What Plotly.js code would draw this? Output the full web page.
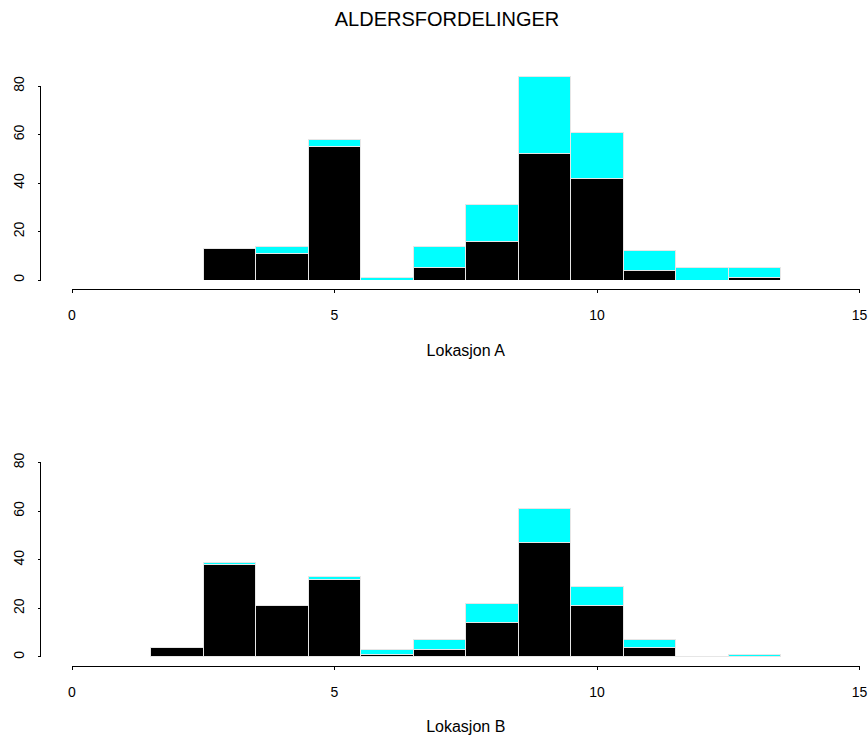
<!DOCTYPE html>
<html>
<head>
<meta charset="utf-8">
<script src="https://cdn.plot.ly/plotly-3.0.1.min.js"></script>
<style>html,body{margin:0;padding:0;background:#fff;}#chart{width:868px;height:736px;}</style>
</head>
<body>
<div id="chart"></div>
<script>
// Age classes (bar centres)
const ages = [2, 3, 4, 5, 6, 7, 8, 9, 10, 11, 12, 13];
// Lokasjon A: black part and cyan part (stacked on top)
const locA_black = [0, 13, 11, 55, 0, 5, 16, 52, 42, 4, 0, 1];
const locA_cyan  = [0, 0, 3, 3, 1, 9, 15, 32, 19, 8, 5, 4];
// Lokasjon B
const locB_black = [4, 38, 21, 32, 1, 3, 14, 47, 21, 4, 0, 0];
const locB_cyan  = [0, 1, 0, 1, 2, 4, 8, 14, 8, 3, 0, 1];

const xTicks = [0, 5, 10, 15];
const yTicks = [0, 20, 40, 60, 80];
const yAxisMax = 80;
const titleText = 'ALDERSFORDELINGER';
const xTitleA = 'Lokasjon A';
const xTitleB = 'Lokasjon B';

const W = 868, H = 736;
const px = v => v / W;
const py = v => 1 - v / H;

const barLine = {color: '#e6e6e6', width: 1};
function bars(y, color, xa, ya) {
  return {type: 'bar', x: ages, y: y, width: 1, xaxis: xa, yaxis: ya,
          marker: {color: color, line: barLine}, hoverinfo: 'skip'};
}
const data = [
  bars(locA_black, '#000000', 'x', 'y'),
  bars(locA_cyan, '#00ffff', 'x', 'y'),
  bars(locB_black, '#000000', 'x2', 'y2'),
  bars(locB_cyan, '#00ffff', 'x2', 'y2')
];

const font = {family: 'Liberation Sans, Arial, sans-serif', color: '#000'};
function xax(pos, title) {
  return {domain: [px(72), px(859.5)], range: [0, 15], anchor: 'free', position: pos,
    showline: true, linecolor: '#000', linewidth: 1, ticks: 'outside', ticklen: 3,
    tickcolor: '#000', tickwidth: 1, tickvals: xTicks, ticktext: xTicks.map(String),
    showgrid: false, zeroline: false, fixedrange: true,
    tickfont: {size: 14}, ticklabelstandoff: 10,
    title: {text: title, font: {size: 16}, standoff: 22}};
}
// y range extends above 80 so the tallest bar is not clipped;
// the visible axis line (0..80) is drawn as a shape
const yPos = px(40.5);
function yax(zeroPx, eightyPx) {
  const per = (zeroPx - eightyPx) / 80;
  const topPx = zeroPx - 92 * per;
  return {domain: [py(zeroPx), py(topPx)], range: [0, 92], anchor: 'free', position: yPos,
    showline: false, ticks: 'outside', ticklen: 3,
    tickcolor: '#000', tickwidth: 1, tickvals: yTicks, ticktext: yTicks.map(String),
    tickangle: -90, showgrid: false, zeroline: false, fixedrange: true,
    tickfont: {size: 14}, ticklabelstandoff: 8};
}

const layout = {
  width: W, height: H,
  margin: {l: 0, r: 0, t: 0, b: 0},
  paper_bgcolor: '#fff', plot_bgcolor: 'rgba(0,0,0,0)',
  font: font,
  showlegend: false,
  barmode: 'stack', bargap: 0,
  title: {text: titleText, x: px(447), xanchor: 'center', xref: 'paper',
          y: py(19), yanchor: 'middle', font: {size: 20}},
  xaxis: xax(py(289.3), xTitleA),
  yaxis: yax(280, 86),
  xaxis2: xax(py(666), xTitleB),
  yaxis2: yax(657, 462.5),
  shapes: [
    {type: 'line', xref: 'paper', yref: 'y', x0: yPos, x1: yPos, y0: 0, y1: yAxisMax,
     line: {color: '#000', width: 1}},
    {type: 'line', xref: 'paper', yref: 'y2', x0: yPos, x1: yPos, y0: 0, y1: yAxisMax,
     line: {color: '#000', width: 1}}
  ]
};

Plotly.newPlot('chart', data, layout, {displayModeBar: false, staticPlot: true});
</script>
</body>
</html>
